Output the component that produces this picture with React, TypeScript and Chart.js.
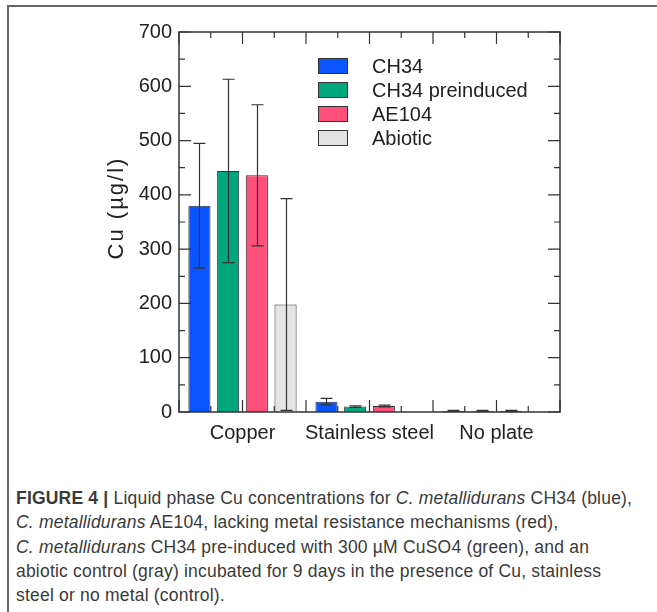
import React, { useEffect, useRef } from 'react';
import { Chart, registerables } from 'chart.js';

Chart.register(...registerables);

// ---- data ----
const categories = ['Copper', 'Stainless steel', 'No plate'];
const seriesLabels = ['CH34', 'CH34 preinduced', 'AE104', 'Abiotic'];
const ch34Values = [380, 19, 2];
const ch34Errors = [115, 6, 1];
const ch34PreValues = [444, 10, 2];
const ch34PreErrors = [169, 1.5, 1];
const ae104Values = [436, 11, 2];
const ae104Errors = [130, 1.5, 1];
const abioticValues = [198, 0, 0];
const abioticErrors = [195, 0, 0];
const yMin = 0;
const yMax = 700;
const yMajorStep = 100;
const yMinorStep = 50;
const yAxisTitle = 'Cu (µg/l)';

const seriesColors = ['#0a55ff', '#00a67c', '#ff4f7b', '#e4e4e4'];
const FONT = "'Liberation Sans', Arial, Helvetica, sans-serif";
const INK = '#222';
const AXIS = '#333';

const frameAndTicks = {
  id: 'frameAndTicks',
  afterDraw(chart: any) {
    const { ctx, chartArea: a } = chart;
    const y = chart.scales.y;
    const x = chart.scales.x;
    ctx.save();
    ctx.strokeStyle = AXIS;
    ctx.lineWidth = 1.5;
    ctx.strokeRect(a.left, a.top, a.right - a.left, a.bottom - a.top);
    ctx.lineWidth = 1.2;
    ctx.beginPath();
    for (let v = yMin; v <= yMax; v += yMinorStep) {
      const py = y.getPixelForValue(v);
      const len = v % yMajorStep === 0 ? 12 : 6;
      ctx.moveTo(a.left, py);
      ctx.lineTo(a.left + len, py);
      ctx.moveTo(a.right, py);
      ctx.lineTo(a.right - len, py);
    }
    const n = categories.length;
    for (let i = 0; i <= n * 4; i++) {
      const pos = -0.5 + i / 4;
      const px = x.getPixelForValue(pos);
      const len = i % 2 === 0 ? 12 : 6;
      ctx.moveTo(px, a.bottom);
      ctx.lineTo(px, a.bottom - len);
      ctx.moveTo(px, a.top);
      ctx.lineTo(px, a.top + len);
    }
    ctx.stroke();

    ctx.save();
    ctx.translate(117, 208);
    ctx.rotate(-Math.PI / 2);
    ctx.fillStyle = INK;
    ctx.font = `22px ${FONT}`;
    (ctx as any).letterSpacing = '2px';
    ctx.textAlign = 'center';
    ctx.textBaseline = 'middle';
    ctx.fillText(yAxisTitle, 0, 0);
    ctx.restore();

    ctx.font = `20px ${FONT}`;
    ctx.textBaseline = 'middle';
    ctx.textAlign = 'left';
    chart.data.datasets.forEach((ds: any, i: number) => {
      const cy = 66 + i * 24;
      ctx.fillStyle = ds.backgroundColor;
      ctx.fillRect(318, cy - 8, 30, 16);
      ctx.strokeStyle = '#333';
      ctx.lineWidth = 1;
      ctx.strokeRect(318.5, cy - 7.5, 29, 15);
      ctx.fillStyle = INK;
      ctx.fillText(ds.label, 372, cy + 1);
    });
    ctx.restore();
  },
};

const errorBars = {
  id: 'errorBars',
  afterDatasetsDraw(chart: any) {
    const { ctx } = chart;
    const y = chart.scales.y;
    ctx.save();
    ctx.strokeStyle = '#333';
    ctx.lineWidth = 1.2;
    chart.data.datasets.forEach((ds: any, di: number) => {
      const meta = chart.getDatasetMeta(di);
      meta.data.forEach((bar: any, i: number) => {
        const e = ds.errors[i];
        const v = ds.data[i];
        if (!e) return;
        const top = y.getPixelForValue(v + e);
        const bot = y.getPixelForValue(Math.max(yMin, v - e));
        const cx = Math.round(bar.x) + 0.5;
        ctx.beginPath();
        ctx.moveTo(cx, top);
        ctx.lineTo(cx, bot);
        ctx.moveTo(cx - 6, top);
        ctx.lineTo(cx + 6, top);
        ctx.moveTo(cx - 6, bot);
        ctx.lineTo(cx + 6, bot);
        ctx.stroke();
      });
    });
    ctx.restore();
  },
};

function ChartView() {
  const ref = useRef<HTMLCanvasElement>(null);
  useEffect(() => {
    if (!ref.current) return;
    const valueSets = [ch34Values, ch34PreValues, ae104Values, abioticValues];
    const errorSets = [ch34Errors, ch34PreErrors, ae104Errors, abioticErrors];
    const chart = new Chart(ref.current, {
      type: 'bar',
      data: {
        labels: categories,
        datasets: seriesLabels.map((label, i) => ({
          label,
          data: valueSets[i],
          errors: errorSets[i],
          backgroundColor: seriesColors[i],
          borderColor: '#333',
          borderWidth: 1,
          borderSkipped: 'bottom',
          categoryPercentage: 0.904,
          barPercentage: 0.77,
        })) as any,
      },
      options: {
        responsive: false,
        animation: false,
        devicePixelRatio: 1,
        layout: { padding: { left: 105, top: 32, right: 97, bottom: 0 } },
        plugins: { legend: { display: false }, tooltip: { enabled: false } },
        scales: {
          x: {
            grid: { display: false, drawTicks: false },
            border: { display: false },
            ticks: { font: { size: 20, family: FONT }, color: INK, padding: 9, maxRotation: 0, autoSkip: false },
            afterFit: (s: any) => { s.height = 48; },
          },
          y: {
            min: yMin,
            max: yMax,
            grid: { display: false, drawTicks: false },
            border: { display: false },
            ticks: { stepSize: yMajorStep, font: { size: 20, family: FONT }, color: INK, padding: 7 },
            afterFit: (s: any) => { s.width = 74; },
          },
        },
      },
      plugins: [errorBars, frameAndTicks],
    });
    return () => chart.destroy();
  }, []);
  return (
    <canvas
      ref={ref}
      width={657}
      height={460}
      style={{ position: 'absolute', left: 0, top: 0, width: 657, height: 460 }}
    />
  );
}

const captionLines: React.ReactNode[] = [
  <>
    <b>FIGURE 4 |</b> Liquid phase Cu concentrations for <i>C. metallidurans</i> CH34 (blue),
  </>,
  <>
    <i>C. metallidurans</i> AE104, lacking metal resistance mechanisms (red),
  </>,
  <>
    <i>C. metallidurans</i> CH34 pre-induced with 300 µM CuSO4 (green), and an
  </>,
  <>abiotic control (gray) incubated for 9 days in the presence of Cu, stainless</>,
  <>steel or no metal (control).</>,
];

export default function App() {
  return (
    <div style={{ position: 'absolute', left: 0, top: 0, width: 657, height: 612, overflow: 'hidden', background: '#fff' }}>
      <div
        style={{
          position: 'absolute',
          left: 7,
          top: 5,
          width: 700,
          height: 700,
          borderTop: '2px solid #666',
          borderLeft: '2px solid #666',
        }}
      />
      <ChartView />
      <div
        style={{
          position: 'absolute',
          left: 16,
          top: 486,
          fontFamily: "'Liberation Sans', Arial, sans-serif",
          fontSize: 17.5,
          letterSpacing: '0.2px',
          lineHeight: '24.3px',
          color: '#3a3a3a',
          whiteSpace: 'nowrap',
        }}
      >
        {captionLines.map((l, i) => (
          <div key={i}>{l}</div>
        ))}
      </div>
    </div>
  );
}
